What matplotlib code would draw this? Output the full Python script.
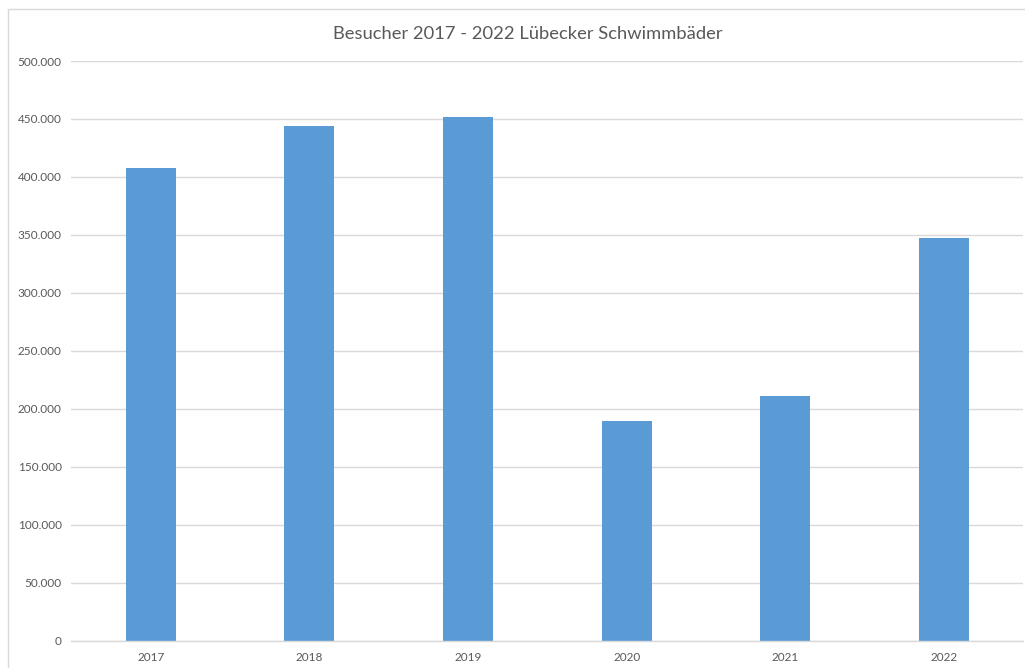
import matplotlib
matplotlib.use("Agg")
import matplotlib.pyplot as plt
from matplotlib.ticker import FuncFormatter, MultipleLocator
from matplotlib.patches import Rectangle

years = ["2017", "2018", "2019", "2020", "2021", "2022"]
visitors = [407500, 443500, 451500, 189500, 210800, 347500]
title = "Besucher 2017 - 2022 Lübecker Schwimmbäder"

plt.rcParams['font.family'] = ['Lato', 'DejaVu Sans']

W, H = 1025, 668
fig = plt.figure(figsize=(W / 100, H / 100), dpi=100)
fig.patch.set_facecolor("white")

# outer chart border (left and top visible)
fig.add_artist(Rectangle((8 / W, 1 - 9 / H), 2, -2, transform=fig.transFigure,
                         fill=False, edgecolor="#D9D9D9", linewidth=1.0))

left, right = 71.4 / W, 1023.3 / W
bottom, top = 1 - 640.5 / H, 1 - 61 / H
ax = fig.add_axes([left, bottom, right - left, top - bottom])

x = list(range(len(years)))
ax.bar(x, visitors, width=0.315, color="#5B9BD5", zorder=3)

ax.set_xlim(-0.5, len(years) - 0.5)
ax.set_ylim(0, 500000)
ax.yaxis.set_major_locator(MultipleLocator(50000))
ax.yaxis.set_major_formatter(FuncFormatter(lambda v, p: f"{int(v):,}".replace(",", ".")))
ax.set_xticks(x)
ax.set_xticklabels(years)

ax.grid(axis="y", color="#D9D9D9", linewidth=1.0, zorder=0)
for s in ["top", "right", "left"]:
    ax.spines[s].set_visible(False)
ax.spines["bottom"].set_color("#D9D9D9")
ax.spines["bottom"].set_linewidth(1.0)
ax.spines["bottom"].set_zorder(4)
ax.tick_params(axis="both", length=0, colors="#595959", labelsize=8.5)
ax.tick_params(axis="y", pad=7)
ax.tick_params(axis="x", pad=8.5)

fig.text(528 / W, 1 - 34 / H, title, ha="center", va="center",
         fontsize=13.2, color="#595959")

fig.savefig("out.png", dpi=100, facecolor="white")
